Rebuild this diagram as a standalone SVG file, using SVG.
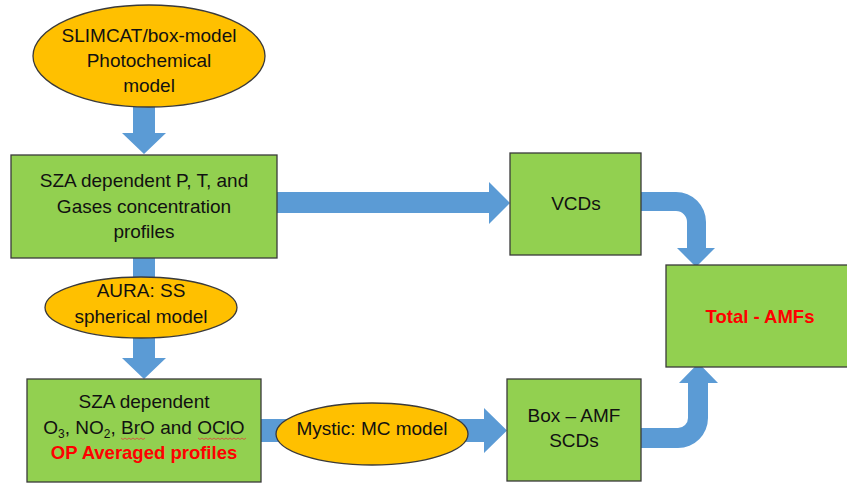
<svg xmlns="http://www.w3.org/2000/svg" width="847" height="484" viewBox="0 0 847 484">
<style>
.box{fill:#92D050;stroke:#3a3a3a;stroke-width:1.3}
.ell{fill:#FFC000;stroke:#3a3a3a;stroke-width:1.3}
.arr{fill:#5B9BD5;stroke:none}
text{font-family:"Liberation Sans",Arial,sans-serif;font-size:19px;fill:#111;text-anchor:middle}
.red{fill:#FF0000;font-weight:bold;font-size:18.5px}
.sp{fill:none;stroke:#E04040;stroke-width:0.8}
</style>
<rect width="847" height="484" fill="#fff"/>
<g id="connectors">
<path class="arr" d="M133,105 H155 V133 H166 L144,154 L122,133 H133 Z"/>
<rect class="arr" x="133" y="257" width="22" height="25"/>
<path class="arr" d="M133,335 H155 V358 H166 L144,379 L122,358 H133 Z"/>
<path class="arr" d="M277,192 H489 V182 L510,203 L489,224 V213 H277 Z"/>
<path class="arr" d="M261,419 H484 V408 L507,430.5 L484,453 V442 H261 Z"/>
<path class="arr" d="M641,192 H676 A30,30 0 0 1 706,222 V248 H715 L696,267 L677,248 H687 V222 A11,11 0 0 0 676,211 H641 Z"/>
<path class="arr" d="M641,448 H678 A30,30 0 0 0 708,418 V383 H718 L698.5,363 L679,383 H688 V418 A10,10 0 0 1 678,428 H641 Z"/>
</g>
<g id="slimcat">
<ellipse class="ell" cx="149" cy="56" rx="116" ry="51"/>
<text x="149" y="42">SLIMCAT/box-model</text>
<text x="149" y="67">Photochemical</text>
<text x="149" y="92">model</text>
</g>
<g id="profiles">
<rect class="box" x="11" y="155" width="266" height="103"/>
<text x="144" y="187">SZA dependent P, T, and</text>
<text x="144" y="213">Gases concentration</text>
<text x="144" y="238">profiles</text>
</g>
<g id="aura">
<ellipse class="ell" cx="141" cy="307.5" rx="96" ry="30.5"/>
<text x="141" y="297">AURA: SS</text>
<text x="141" y="323">spherical model</text>
</g>
<g id="op-profiles">
<rect class="box" x="27" y="379" width="234" height="103"/>
<text x="144" y="408">SZA dependent</text>
<text x="144" y="434">O<tspan font-size="12" dy="4">3</tspan><tspan dy="-4">, NO</tspan><tspan font-size="12" dy="4">2</tspan><tspan dy="-4">, BrO and OClO</tspan></text>
<path class="sp" d="M121,438 l2,1.5 l2,-1.5 l2,1.5 l2,-1.5 l2,1.5 l2,-1.5 l2,1.5 l2,-1.5 l2,1.5 l2,-1.5 l2,1.5 l2,-1.5"/>
<path class="sp" d="M198,438 l2,1.5 l2,-1.5 l2,1.5 l2,-1.5 l2,1.5 l2,-1.5 l2,1.5 l2,-1.5 l2,1.5 l2,-1.5 l2,1.5 l2,-1.5 l2,1.5 l2,-1.5 l2,1.5 l2,-1.5 l2,1.5 l2,-1.5 l2,1.5 l2,-1.5 l2,1.5 l2,-1.5 l2,1.5 l2,-1.5"/>
<text x="144" y="459" class="red">OP Averaged profiles</text>
</g>
<g id="mystic">
<ellipse class="ell" cx="372" cy="434" rx="96" ry="31"/>
<text x="372" y="435">Mystic: MC model</text>
</g>
<g id="vcds">
<rect class="box" x="510" y="153" width="131" height="102"/>
<text x="576" y="210">VCDs</text>
</g>
<g id="box-amf">
<rect class="box" x="507" y="379" width="134" height="102"/>
<text x="574" y="422">Box – AMF</text>
<text x="574" y="447">SCDs</text>
</g>
<g id="total-amfs">
<rect class="box" x="666" y="265" width="190" height="102"/>
<text x="760" y="323" class="red">Total - AMFs</text>
</g>
</svg>
